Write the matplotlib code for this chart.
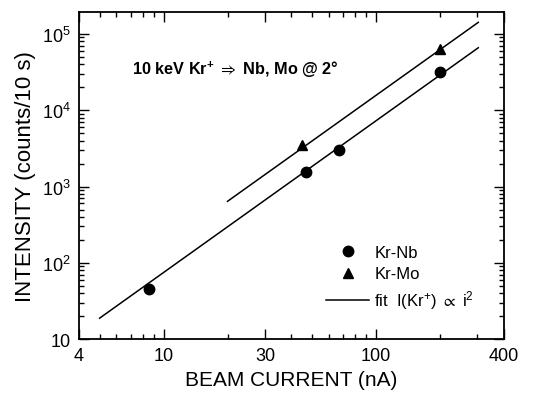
import matplotlib
matplotlib.use("Agg")
import matplotlib.pyplot as plt
from matplotlib.ticker import FixedLocator, FixedFormatter, NullFormatter

plt.rcParams['font.family'] = ['Liberation Sans', 'DejaVu Sans']
plt.rcParams['mathtext.fontset'] = 'custom'
plt.rcParams['mathtext.rm'] = 'Liberation Sans'
plt.rcParams['mathtext.it'] = 'Liberation Sans'
plt.rcParams['mathtext.bf'] = 'Liberation Sans:bold'
plt.rcParams['mathtext.sf'] = 'Liberation Sans'
plt.rcParams['mathtext.fallback'] = 'stixsans'

# data
nb_current = [8.5, 47, 67, 201]
nb_counts = [45, 1530, 3050, 32000]
mo_current = [45, 201]
mo_counts = [3550, 63000]

# fit lines (endpoints as drawn)
fit_nb_x = [5.0, 303]
fit_nb_y = [18.8, 66000]
fit_mo_x = [20.0, 303]
fit_mo_y = [640, 142000]

x_major = [4, 10, 30, 100, 400]
x_labels = ['4', '10', '30', '100', '400']
x_minor = [5, 6, 7, 8, 9, 20, 40, 50, 60, 70, 80, 90, 200, 300]
y_major = [10, 1e2, 1e3, 1e4, 1e5]
y_labels = ['10', r'$10^2$', r'$10^3$', r'$10^4$', r'$10^5$']
y_minor = [m * d for d in [10, 100, 1000, 10000, 100000] for m in range(2, 10)]

fig = plt.figure(figsize=(5.43, 4.02), dpi=100)
ax = fig.add_axes([0.1455, 0.154, 0.7825, 0.814])

ax.plot(fit_nb_x, fit_nb_y, color='black', lw=1.1, label=r'fit  I(Kr$^{+}$) $\propto$ i$^{2}$')
ax.plot(fit_mo_x, fit_mo_y, color='black', lw=1.1)
ax.plot(nb_current, nb_counts, 'o', color='black', ms=7.5, label='Kr-Nb')
ax.plot(mo_current, mo_counts, '^', color='black', ms=7, label='Kr-Mo')

ax.set_xscale('log')
ax.set_yscale('log')
ax.set_xlim(4, 400)
ax.set_ylim(10, 1.95e5)

ax.xaxis.set_major_locator(FixedLocator(x_major))
ax.xaxis.set_major_formatter(FixedFormatter(x_labels))
ax.xaxis.set_minor_locator(FixedLocator(x_minor))
ax.xaxis.set_minor_formatter(NullFormatter())
ax.yaxis.set_major_locator(FixedLocator(y_major))
ax.yaxis.set_major_formatter(FixedFormatter(y_labels))
ax.yaxis.set_minor_locator(FixedLocator(y_minor))
ax.yaxis.set_minor_formatter(NullFormatter())

ax.tick_params(which='both', direction='in', top=True, right=True, width=1)
ax.tick_params(which='major', length=7, labelsize=13, pad=6)
ax.tick_params(which='minor', length=3.5)
for s in ax.spines.values():
    s.set_linewidth(1.3)

ax.set_xlabel('BEAM CURRENT (nA)', fontsize=15, labelpad=4)
ax.set_ylabel('INTENSITY (counts/10 s)', fontsize=16, labelpad=4)

ax.text(0.125, 0.81, r'10 keV Kr$^{\mathbf{+}}$ $\Rightarrow$ Nb, Mo @ 2°', transform=ax.transAxes,
        fontsize=11.7, fontweight='bold')

handles, labels = ax.get_legend_handles_labels()
order = [1, 2, 0]
ax.legend([handles[i] for i in order], [labels[i] for i in order],
          loc='lower right', bbox_to_anchor=(0.965, 0.04), frameon=False,
          fontsize=12, handlelength=2.6, handletextpad=0.3, labelspacing=0.4)

fig.savefig('out.png', dpi=100)
